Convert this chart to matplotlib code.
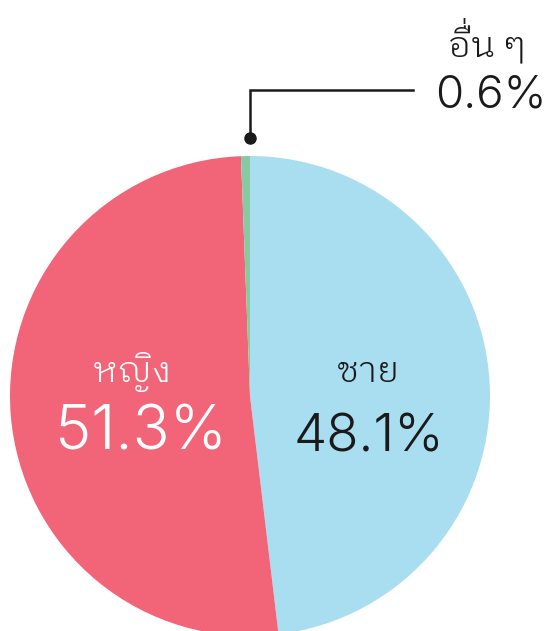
import matplotlib
matplotlib.use("Agg")
import matplotlib.pyplot as plt

# ข้อมูล
labels = ["ชาย", "หญิง", "อื่น ๆ"]
values = [48.1, 51.3, 0.6]
colors = ["#A9DEF0", "#F26578", "#86C9A2"]

W, H = 549, 631
THAI = ["IBM Plex Sans Thai Looped", "Sarabun", "Noto Sans Thai", "DejaVu Sans"]
NUM = ["Inter", "Roboto", "DejaVu Sans"]
DARK = "#1a1a1a"

fig = plt.figure(figsize=(W / 100, H / 100), dpi=100)
ax = fig.add_axes([0, 0, 1, 1])

# pixel -> data (y นับจากบน)
def py(y):
    return H - y

ax.pie(values, colors=colors, startangle=90, counterclock=False,
       center=(250, py(396)), radius=240, frame=True,
       wedgeprops=dict(linewidth=0))
ax.set_xlim(0, W)
ax.set_ylim(0, H)
ax.set_aspect("equal")
ax.axis("off")

# ป้ายกำกับ
def thai(x, y, s, color, size, ha="center"):
    ax.text(x, py(y), s, ha=ha, va="baseline", fontsize=size,
            color=color, family=THAI, fontweight=300)

def pct(x, y, v, color, size):
    ax.text(x, py(y), f"{v}%", ha="center", va="baseline", fontsize=size,
            color=color, family=NUM, fontweight=300)

thai(132, 382, labels[1], "white", 26)
pct(141, 450, values[1], "white", 44)

thai(368, 382, labels[0], DARK, 26)
pct(369, 452, values[0], DARK, 38)

# matplotlib วางวรรณยุกต์ทับสระบน จึงวาดไม้เอกแยก (ต่อท้ายช่องว่างไม่ตัด)
thai(487, 57, labels[2].replace("\u0e48", ""), DARK, 26)
thai(466, 48, "\u00a0\u0e48", DARK, 26, ha="right")
pct(491, 108, values[2], DARK, 33)

# เส้นชี้
ax.plot([250, 250, 413], [py(138), py(90), py(90)], color=DARK, lw=1.8,
        solid_joinstyle="miter")
ax.plot([250], [py(138)], "o", color=DARK, ms=8)

fig.savefig("out.png", dpi=100)
